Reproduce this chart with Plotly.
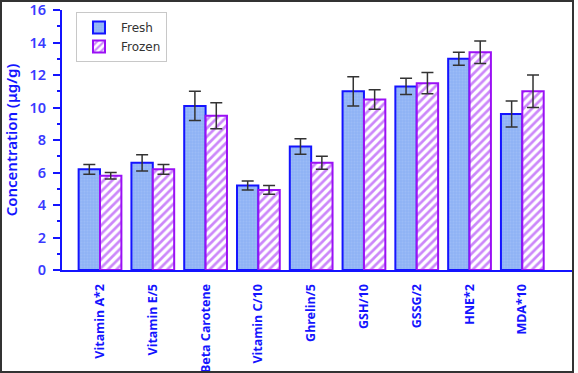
import plotly.graph_objects as go

categories = ["Vitamin A*2", "Vitamin E/5", "Beta Carotene", "Vitamin C/10", "Ghrelin/5",
              "GSH/10", "GSSG/2", "HNE*2", "MDA*10"]
fresh = [6.2, 6.6, 10.1, 5.2, 7.6, 11.0, 11.3, 13.0, 9.6]
fresh_err = [0.3, 0.5, 0.9, 0.27, 0.48, 0.9, 0.5, 0.4, 0.8]
frozen = [5.8, 6.2, 9.5, 4.93, 6.6, 10.5, 11.5, 13.4, 11.0]
frozen_err = [0.2, 0.3, 0.8, 0.27, 0.4, 0.6, 0.65, 0.7, 1.0]

BLUE = "#1414ff"
TICKBLUE = "#3a3aff"
PURPLE = "#9a10f5"
ERR = "#333333"

fig = go.Figure()
fig.add_trace(go.Bar(
    name="Fresh", x=categories, y=fresh,
    error_y=dict(type="data", array=fresh_err, color=ERR, thickness=1.5, width=6),
    marker=dict(color="#8fb3f5", line=dict(color=BLUE, width=2),
                pattern=dict(shape=".", fgcolor="#a9c4f7", size=3, solidity=0.3)),
))
fig.add_trace(go.Bar(
    name="Frozen", x=categories, y=frozen,
    error_y=dict(type="data", array=frozen_err, color=ERR, thickness=1.5, width=6),
    marker=dict(color="white", line=dict(color=PURPLE, width=2),
                pattern=dict(shape="/", fgcolor=PURPLE, bgcolor="white", size=6, solidity=0.45)),
))

L, R, T, B = 62, 5, 10, 103
W, H = 578, 373
pw, ph = W - L - R, H - T - B

def px(x):
    return (x - L) / pw

def py(y):
    return 1 - (y - T) / ph

fig.update_layout(
    width=W, height=H,
    margin=dict(l=L, r=R, t=T, b=B, autoexpand=False),
    paper_bgcolor="white", plot_bgcolor="white",
    barmode="group", bargap=0.19, bargroupgap=0,
    font=dict(family="DejaVu Sans", color=BLUE),
    showlegend=True,
    legend=dict(x=px(76), y=py(12), xanchor="left", yanchor="top",
                bgcolor="white", bordercolor="#c8c8c8", borderwidth=1,
                font=dict(size=12, color="#333333", family="DejaVu Sans"),
                itemwidth=34, tracegroupgap=2),
    xaxis=dict(range=[-0.72, 8.96], showline=True, linecolor=BLUE, linewidth=2,
               ticks="", tickangle=-90, showgrid=False, zeroline=False, automargin=False,
               ticklabelstandoff=7,
               tickfont=dict(size=12.5, color=BLUE, family="Noto Sans", weight="bold")),
    yaxis=dict(range=[0, 16], dtick=2, showline=True, linecolor=BLUE, linewidth=2,
               ticks="outside", ticklen=7, tickwidth=2, tickcolor=BLUE, automargin=False,
               minor=dict(dtick=1, ticks="outside", ticklen=3, tickwidth=1.5, tickcolor=BLUE),
               showgrid=False, zeroline=False, ticklabelstandoff=4,
               ticklabeloverflow="allow",
               tickfont=dict(size=14.5, color=TICKBLUE, family="Noto Sans", weight=600),
               title=dict(text="Concentration (μg/g)", standoff=8,
                          font=dict(size=15, color=BLUE, family="Noto Sans", weight=600))),
    shapes=[dict(type="rect", xref="paper", yref="paper",
                 x0=px(1), x1=px(573), y0=py(372), y1=py(1),
                 line=dict(color="#333333", width=2), fillcolor="rgba(0,0,0,0)", layer="above")],
)

fig.write_html("out.html", config={"displayModeBar": False},
               post_script="document.body.style.margin='0';document.body.style.overflow='hidden';")
